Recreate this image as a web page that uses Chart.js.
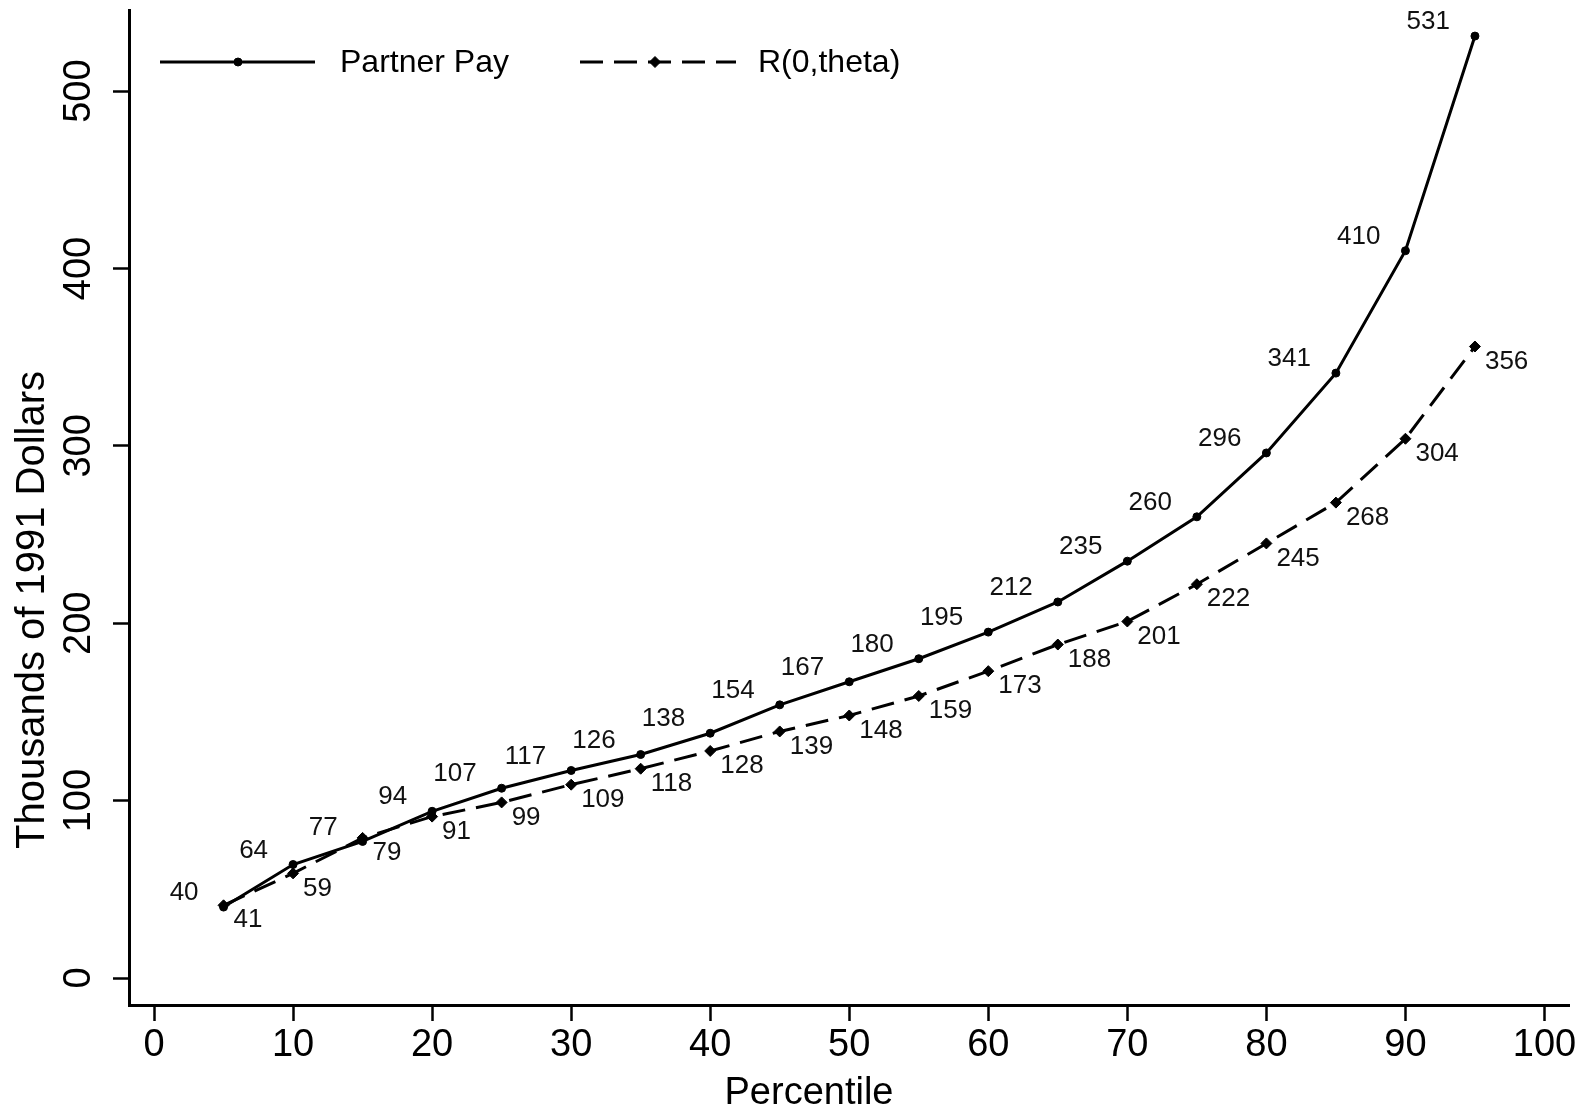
<!DOCTYPE html>
<html>
<head>
<meta charset="utf-8">
<title>Partner Pay by Percentile</title>
<script src="https://cdn.jsdelivr.net/npm/chart.js@4.4.1/dist/chart.umd.min.js"></script>
<style>
  html, body { margin: 0; padding: 0; background: #fff; }
  #wrap { width: 1576px; height: 1117px; position: relative; }
</style>
</head>
<body>
<div id="wrap"><canvas id="chart" width="1576" height="1117"></canvas></div>
<script>
const FONT = "'Liberation Sans', Arial, sans-serif";

// percentiles and pay (thousands of 1991 dollars)
const percentiles = [5, 10, 15, 20, 25, 30, 35, 40, 45, 50, 55, 60, 65, 70, 75, 80, 85, 90, 95];
const partnerPay  = [40, 64, 77, 94, 107, 117, 126, 138, 154, 167, 180, 195, 212, 235, 260, 296, 341, 410, 531];
const rTheta      = [41, 59, 79, 91, 99, 109, 118, 128, 139, 148, 159, 173, 188, 201, 222, 245, 268, 304, 356];

const xTicks = [0, 10, 20, 30, 40, 50, 60, 70, 80, 90, 100];
const yTicks = [0, 100, 200, 300, 400, 500];

const seriesNames = ['Partner Pay', 'R(0,theta)'];
const xTitle = 'Percentile';
const yTitle = 'Thousands of 1991 Dollars';

const toXY = arr => arr.map((v, i) => ({ x: percentiles[i], y: v }));

// value labels: Partner Pay above-left, R(0,theta) below-right
const valueLabels = {
  id: 'valueLabels',
  afterDatasetsDraw(chart) {
    const ctx = chart.ctx;
    ctx.save();
    ctx.font = '26px ' + FONT;
    ctx.fillStyle = '#111';
    ctx.textBaseline = 'middle';
    chart.data.datasets.forEach((ds, di) => {
      const meta = chart.getDatasetMeta(di);
      meta.data.forEach((pt, i) => {
        const v = ds.data[i].y;
        if (di === 0) {
          ctx.textAlign = 'right';
          ctx.fillText(String(v), pt.x - 25, pt.y - 14);
        } else {
          ctx.textAlign = 'left';
          ctx.fillText(String(v), pt.x + 10, pt.y + 15);
        }
      });
    });
    ctx.restore();
  }
};

// rotated y tick labels, axis titles and the legend box
const frame = {
  id: 'frame',
  afterDraw(chart) {
    const ctx = chart.ctx;
    const y = chart.scales.y;
    ctx.save();
    ctx.fillStyle = '#000';
    ctx.font = '38px ' + FONT;
    ctx.textAlign = 'center';
    ctx.textBaseline = 'alphabetic';
    yTicks.forEach(t => {
      ctx.save();
      ctx.translate(90, y.getPixelForValue(t));
      ctx.rotate(-Math.PI / 2);
      ctx.fillText(String(t), 0, 0);
      ctx.restore();
    });

    ctx.fillText(xTitle, 809, 1104);

    ctx.save();
    ctx.font = '40px ' + FONT;
    ctx.translate(44, 610);
    ctx.rotate(-Math.PI / 2);
    ctx.fillText(yTitle, 0, 0);
    ctx.restore();

    // legend
    const ly = 62;
    const entries = [
      { x0: 160, x1: 315, mx: 238, tx: 340, ds: chart.data.datasets[0] },
      { x0: 580, x1: 736, mx: 655, tx: 758, ds: chart.data.datasets[1] }
    ];
    ctx.font = '32px ' + FONT;
    ctx.textAlign = 'left';
    ctx.textBaseline = 'middle';
    entries.forEach(e => {
      ctx.save();
      ctx.strokeStyle = e.ds.borderColor;
      ctx.lineWidth = e.ds.borderWidth;
      ctx.setLineDash(e.ds.borderDash || []);
      ctx.beginPath();
      ctx.moveTo(e.x0, ly);
      ctx.lineTo(e.x1, ly);
      ctx.stroke();
      ctx.restore();
      ctx.fillStyle = '#000';
      ctx.strokeStyle = '#000';
      Chart.helpers.drawPoint(ctx, {
        pointStyle: e.ds.pointStyle,
        radius: e.ds.pointRadius,
        borderWidth: 1
      }, e.mx, ly);
      ctx.fillText(e.ds.label, e.tx, ly + 1);
    });
    ctx.restore();
  }
};

new Chart(document.getElementById('chart'), {
  type: 'scatter',
  data: {
    datasets: [
      {
        label: seriesNames[0],
        data: toXY(partnerPay),
        showLine: true,
        borderColor: '#000',
        backgroundColor: '#000',
        borderWidth: 3,
        pointStyle: 'circle',
        pointRadius: 4,
        pointBackgroundColor: '#000',
        pointBorderColor: '#000',
        pointBorderWidth: 1,
        tension: 0
      },
      {
        label: seriesNames[1],
        data: toXY(rTheta),
        showLine: true,
        borderColor: '#000',
        backgroundColor: '#000',
        borderWidth: 3,
        borderDash: [23, 11],
        pointStyle: 'rectRot',
        pointRadius: 5.5,
        pointBackgroundColor: '#000',
        pointBorderColor: '#000',
        pointBorderWidth: 1,
        tension: 0
      }
    ]
  },
  options: {
    responsive: false,
    animation: false,
    devicePixelRatio: 1,
    layout: { padding: { top: 10, right: 0, left: 0, bottom: 0 } },
    plugins: {
      legend: { display: false },
      tooltip: { enabled: false }
    },
    scales: {
      x: {
        type: 'linear',
        min: -1.8,
        max: 101.8,
        afterBuildTicks: s => { s.ticks = xTicks.map(v => ({ value: v })); },
        afterFit: s => { s.height = 112; s.paddingLeft = 0; s.paddingRight = 0; },
        border: { display: true, color: '#000', width: 3 },
        grid: { display: true, drawOnChartArea: false, drawTicks: true, tickLength: 16, tickColor: '#000', tickWidth: 2.5, color: '#000' },
        ticks: { color: '#000', font: { family: FONT, size: 38 }, padding: 2, maxRotation: 0 }
      },
      y: {
        type: 'linear',
        min: -15.2,
        max: 545.7,
        afterBuildTicks: s => { s.ticks = yTicks.map(v => ({ value: v })); },
        afterFit: s => { s.width = 129; s.paddingTop = 0; s.paddingBottom = 0; },
        border: { display: true, color: '#000', width: 3 },
        grid: { display: true, drawOnChartArea: false, drawTicks: true, tickLength: 16, tickColor: '#000', tickWidth: 2.5, color: '#000' },
        ticks: { display: false }
      }
    }
  },
  plugins: [valueLabels, frame]
});
</script>
</body>
</html>
